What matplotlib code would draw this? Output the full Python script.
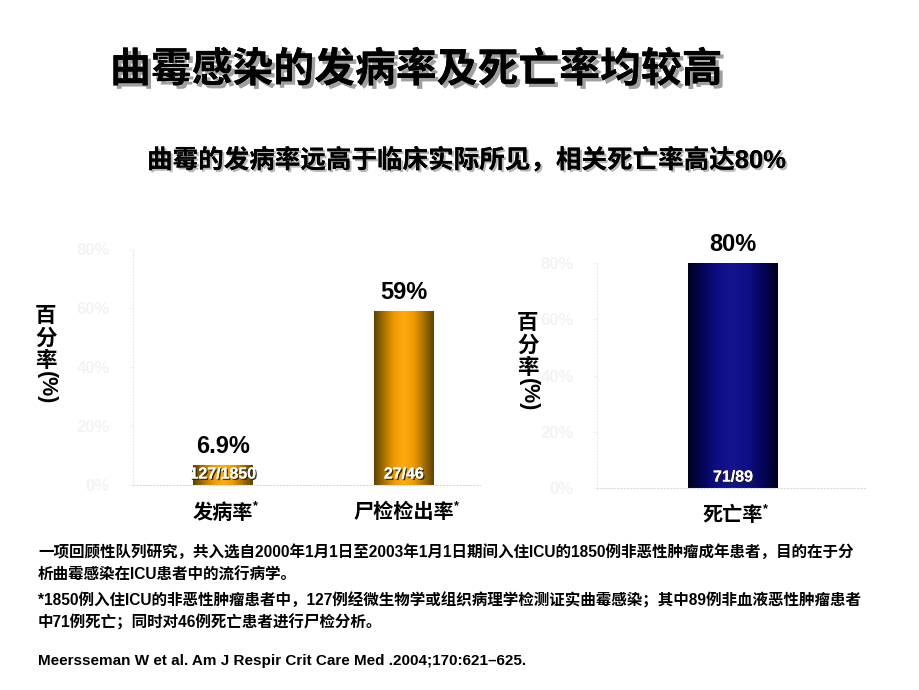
import numpy as np
import matplotlib
matplotlib.use("Agg")
import matplotlib.pyplot as plt
import matplotlib.patheffects as pe
from matplotlib.colors import LinearSegmentedColormap

plt.rcParams['font.family'] = ['Liberation Sans', 'Noto Sans CJK SC', 'DejaVu Sans']
plt.rcParams['font.weight'] = 'bold'

# ---- data ----
left_categories = ["发病率", "尸检检出率"]
left_values = [6.9, 59]
left_value_labels = ["6.9%", "59%"]
left_counts = ["127/1850", "27/46"]

right_categories = ["死亡率"]
right_values = [80]
right_value_labels = ["80%"]
right_counts = ["71/89"]

yticks = [0, 20, 40, 60, 80]
ytick_labels = ["0%", "20%", "40%", "60%", "80%"]

title = "曲霉感染的发病率及死亡率均较高"
subtitle = "曲霉的发病率远高于临床实际所见，相关死亡率高达80%"
ylabel_chars = "百分率"
footnotes = [
    "一项回顾性队列研究，共入选自2000年1月1日至2003年1月1日期间入住ICU的1850例非恶性肿瘤成年患者，目的在于分",
    "析曲霉感染在ICU患者中的流行病学。",
    "*1850例入住ICU的非恶性肿瘤患者中，127例经微生物学或组织病理学检测证实曲霉感染；其中89例非血液恶性肿瘤患者",
    "中71例死亡；同时对46例死亡患者进行尸检分析。",
]
citation = "Meersseman W et al. Am J Respir Crit Care Med .2004;170:621–625."

W, H = 920, 690
fig = plt.figure(figsize=(9.2, 6.9), dpi=100)
fig.patch.set_facecolor('white')

def fx(px):
    return px / W

def fy(py):
    return 1 - py / H

shadow = [pe.withSimplePatchShadow(offset=(2.5, -2.5), shadow_rgbFace='#888888', alpha=0.8), pe.Normal()]

fig.text(fx(110), fy(70), title, fontsize=29.4, fontweight='bold', ha='left', va='center',
         path_effects=shadow)
fig.text(fx(147), fy(160), subtitle, fontsize=18.4, fontweight='bold', ha='left', va='center',
         path_effects=[pe.withSimplePatchShadow(offset=(1.5, -1.5), shadow_rgbFace='#999999', alpha=0.7), pe.Normal()])

orange_cmap = LinearSegmentedColormap.from_list('og', ['#5a4200', '#a87000', '#f09a00', '#ffab10', '#f09a00', '#a87000', '#5a4200'])
blue_cmap = LinearSegmentedColormap.from_list('bl', ['#00001e', '#05055a', '#0f0f86', '#14148f', '#0f0f86', '#05055a', '#00001e'])

faint = '#f3f3f3'

def style_axes(ax, ylim_top):
    ax.set_ylim(0, ylim_top)
    for s in ['top', 'right']:
        ax.spines[s].set_visible(False)
    ax.spines['left'].set_linestyle((0, (1, 2)))
    ax.spines['left'].set_color('#e8e8e8')
    ax.spines['bottom'].set_linestyle((0, (1, 2)))
    ax.spines['bottom'].set_color('#d8d8d8')
    ax.set_yticks(yticks)
    ax.set_yticklabels(ytick_labels, color=faint, fontsize=12)
    ax.tick_params(axis='y', length=3, color=faint, pad=14)
    ax.tick_params(axis='x', length=0, pad=13, labelsize=14.5)
    ax.set_facecolor('none')

def gradient_bars(ax, bars, cmap):
    grad = np.linspace(0, 1, 256).reshape(1, -1)
    for b in bars:
        x, w, h = b.get_x(), b.get_width(), b.get_height()
        im = ax.imshow(grad, cmap=cmap, aspect='auto', extent=[x, x + w, 0, h],
                       zorder=b.get_zorder() + 0.1, interpolation='bicubic')
        im.set_clip_path(b)

def add_labels(ax, bars, vals, counts, top_off):
    for b, v, c in zip(bars, vals, counts):
        cx = b.get_x() + b.get_width() / 2
        ax.annotate(v, xy=(cx, b.get_height()), xytext=(0, top_off), textcoords='offset points',
                    ha='center', va='bottom', fontsize=17, fontweight='bold', color='black')
        ax.annotate(c, xy=(cx, 0), xytext=(0, 2.5), textcoords='offset points',
                    ha='center', va='bottom', fontsize=11.5, fontweight='bold', color='white', zorder=5,
                    path_effects=[pe.withSimplePatchShadow(offset=(1, -1), shadow_rgbFace='#222222', alpha=0.9), pe.Normal()])

# ---- left chart ----
axL = fig.add_axes([fx(133), fy(485), fx(480) - fx(133), fy(249) - fy(485)])
xl = np.arange(len(left_categories))
barsL = axL.bar(xl, left_values, width=0.331, color='#e89200', zorder=2)
gradient_bars(axL, barsL, orange_cmap)
style_axes(axL, 80)
axL.set_xlim(-0.497, 1.42)
axL.set_xticks(xl)
axL.set_xticklabels(left_categories)
add_labels(axL, barsL, left_value_labels, left_counts, 5)

# ---- right chart ----
axR = fig.add_axes([fx(597), fy(488), fx(865) - fx(597), fy(263) - fy(488)])
xr = np.arange(len(right_categories))
barsR = axR.bar(xr, right_values, width=0.5, color='#0f0f80', zorder=2)
gradient_bars(axR, barsR, blue_cmap)
style_axes(axR, 80)
axR.set_xlim(-0.756, 0.733)
axR.set_xticks(xr)
axR.set_xticklabels(right_categories)
add_labels(axR, barsR, right_value_labels, right_counts, 5)

# superscript asterisks on category labels
fig.canvas.draw()
for ax in (axL, axR):
    for lab in ax.get_xticklabels():
        bb = lab.get_window_extent()
        fig.text(bb.x1 / W, bb.y1 / H + 0.004, "*", fontsize=9, ha='left', va='top',
                 fontweight='bold')

# vertical y labels
def vlabel(xpx, ypx_top):
    t = fig.text(fx(xpx), fy(ypx_top), "\n".join(ylabel_chars), fontsize=15.5, fontweight='bold',
                 ha='center', va='top', linespacing=1.08)
    fig.canvas.draw()
    bb = t.get_window_extent()
    fig.text(fx(xpx), bb.y0 / H + 0.001, "(%)", fontsize=15.5, fontweight='bold', rotation=270,
             ha='center', va='top')

vlabel(46, 306)
vlabel(528, 313)

# footnotes
ys = [552, 575, 600, 622]
for y, line in zip(ys, footnotes):
    fig.text(fx(38), fy(y), line, fontsize=11.2, fontweight='bold', ha='left', va='center')
fig.text(fx(38), fy(661), citation, fontsize=11.0, fontweight='bold', ha='left', va='center')

fig.savefig("out.png", dpi=100, facecolor='white')
